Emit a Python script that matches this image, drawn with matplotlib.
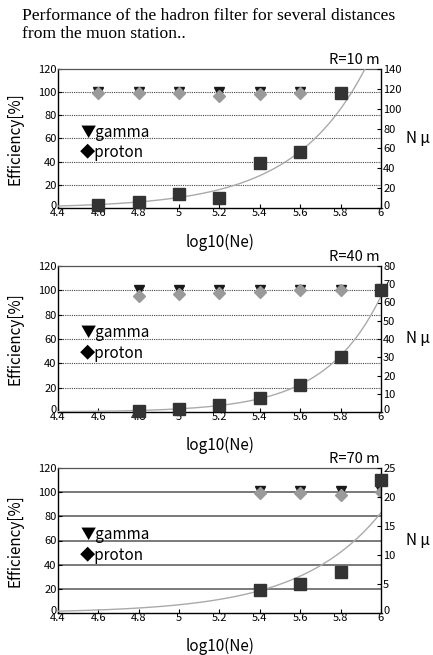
import numpy as np
import matplotlib.pyplot as plt
from matplotlib.transforms import ScaledTranslation

SANS = ['Noto Sans CJK JP', 'DejaVu Sans']
plt.rcParams['font.family'] = SANS

# ── data ─────────────────────────────────────────────────────────────────────
# R = 10 m
r10_eff_x = [4.6, 4.8, 5.0, 5.2, 5.4, 5.6]
r10_gamma = [100.5, 100.5, 100.5, 100.5, 100.5, 100.5]
r10_proton = [99, 99, 99, 97, 98, 99]
r10_nmu_x = [4.6, 4.8, 5.0, 5.2, 5.4, 5.6, 5.8]
r10_nmu = [3.4, 5.7, 14, 10, 45, 56.5, 115.5]
r10_trend = (175.0, 2.8)      # exponential trend: N(6), slope per decade

# R = 40 m
r40_eff_x = [4.8, 5.0, 5.2, 5.4, 5.6, 5.8]
r40_gamma = [100.5, 100.5, 100.5, 100.5, 100.5, 100.5]
r40_proton = [95.5, 97, 98, 99, 100, 100]
r40_nmu_x = [4.8, 5.0, 5.2, 5.4, 5.6, 5.8, 6.0]
r40_nmu = [0.5, 1.5, 3.7, 7.8, 15, 30, 66.7]
r40_trend = (63.5, 3.6)

# R = 70 m
r70_eff_x = [5.4, 5.6, 5.8, 6.0]
r70_gamma = [101, 101, 101, 101]
r70_proton = [99, 99, 97.5, 100]
r70_nmu_x = [5.4, 5.6, 5.8, 6.0]
r70_nmu = [4.0, 5.0, 7.0, 23.0]
r70_trend = (17.3, 2.5)

x_ticks = [4.4, 4.6, 4.8, 5.0, 5.2, 5.4, 5.6, 5.8, 6.0]
x_labels = ['4.4', '4.6', '4.8', '5', '5.2', '5.4', '5.6', '5.8', '6']
eff_ticks = [0, 20, 40, 60, 80, 100, 120]

panels = [
    ('R=10 m', r10_eff_x, r10_gamma, r10_proton, r10_nmu_x, r10_nmu, r10_trend,
     140, 20, 'dotted'),
    ('R=40 m', r40_eff_x, r40_gamma, r40_proton, r40_nmu_x, r40_nmu, r40_trend,
     80, 10, 'dotted'),
    ('R=70 m', r70_eff_x, r70_gamma, r70_proton, r70_nmu_x, r70_nmu, r70_trend,
     25, 5, 'solid'),
]

# axes boxes in pixels (top, bottom) of a 433x655 canvas
W, H = 433, 655
boxes = [(69, 208), (266, 412), (468, 613)]
xlab_y = [242, 445, 646]

fig = plt.figure(figsize=(W / 100, H / 100), dpi=100)
fig.patch.set_facecolor('white')

fig.text(22 / W, 1 - 8 / H,
         'Performance of the hadron filter for several distances\nfrom the muon station..',
         family='Liberation Serif', fontsize=12.6, va='top', ha='left',
         linespacing=1.15)

for (label, ex, gam, pro, nx, nmu, trend, rmax, rstep, gstyle), (top, bot), xly in zip(panels, boxes, xlab_y):
    ax = fig.add_axes([58 / W, 1 - bot / H, (381 - 58) / W, (bot - top) / H])
    ax.set_xlim(4.4, 6.0)
    ax.set_ylim(0, 120)

    if gstyle == 'dotted':
        for v in eff_ticks[1:-1]:
            ax.axhline(v, color='#444444', lw=0.8, ls=(0, (1, 1)), zorder=1)
    else:
        for v in eff_ticks[1:-1]:
            ax.axhline(v, color='#555555', lw=1.1, zorder=1)

    ax.plot(ex, gam, ls='none', marker='v', ms=7.5, color='#1a1a1a', zorder=3)
    ax.plot(ex, pro, ls='none', marker='D', ms=6, color='#9a9a9a', zorder=4)

    ax.set_xticks(x_ticks)
    ax.set_xticklabels(x_labels)
    ax.set_yticks(eff_ticks)
    ax.tick_params(direction='in', length=3, width=0.8, labelsize=8, pad=1,
                   colors='black')
    ax.tick_params(axis='x', pad=0)
    # raise the "0" label a little, as in the original
    ax.get_yticklabels()[0].set_transform(
        ax.get_yticklabels()[0].get_transform()
        + ScaledTranslation(0, 3 / 100, fig.dpi_scale_trans))
    ax.set_ylabel('Efficiency[%]', fontsize=11)
    ax.yaxis.set_label_coords(-34 / 323, 0.5)
    for side in ['left', 'bottom']:
        ax.spines[side].set_color('black')
        ax.spines[side].set_linewidth(1.0)
    ax.spines['top'].set_color('#555555')
    ax.spines['top'].set_linewidth(0.9)
    ax.spines['right'].set_visible(False)

    ax.text(4.51, 65, '▼gamma', fontsize=11, va='center', ha='left', zorder=5)
    ax.text(4.51, 48, '◆proton', fontsize=11, va='center', ha='left', zorder=5)

    ax2 = ax.twinx()
    ax2.set_ylim(0, rmax)
    ax2.set_yticks(np.arange(0, rmax + 1, rstep))
    ax2.tick_params(direction='in', length=3, width=0.8, labelsize=8, pad=1.5)
    ax2.get_yticklabels()[0].set_transform(
        ax2.get_yticklabels()[0].get_transform()
        + ScaledTranslation(0, 3 / 100, fig.dpi_scale_trans))
    ax2.spines['right'].set_color('black')
    ax2.spines['right'].set_linewidth(1.0)
    for side in ['left', 'top', 'bottom']:
        ax2.spines[side].set_visible(False)

    xs = np.linspace(4.4, 6.0, 200)
    ax2.plot(xs, trend[0] * np.exp(trend[1] * (xs - 6.0)), color='#aaaaaa',
             lw=1.0, zorder=2, clip_on=True)
    ax2.plot(nx, nmu, ls='none', marker='s', ms=8, color='#333333', zorder=5,
             clip_on=False)

    fig.text(380 / W, 1 - (top - 9) / H, label, fontsize=10.5, ha='right',
             va='center')
    fig.text(418 / W, 1 - ((top + bot) / 2) / H, 'N μ', fontsize=11,
             ha='center', va='center')
    fig.text(220 / W, 1 - xly / H, 'log10(Ne)', fontsize=11, ha='center',
             va='center')

fig.savefig('out.png', dpi=100, facecolor='white')
